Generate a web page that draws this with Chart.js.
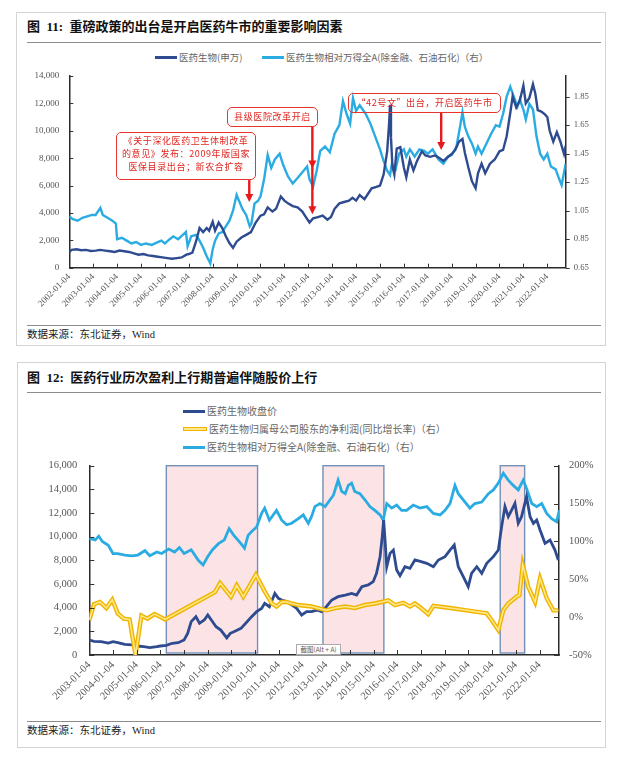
<!DOCTYPE html>
<html>
<head>
<meta charset="utf-8">
<script src="https://cdn.jsdelivr.net/npm/chart.js@4.4.1/dist/chart.umd.min.js"></script>
<style>
body { margin: 0; width: 636px; height: 760px; background: #fff; position: relative; overflow: hidden;
       font-family: "Liberation Serif", "Noto Sans CJK SC", serif; }
.panel { position: absolute; border: 1px solid #d4d4d4; background: #fff; }
.title { position: absolute; left: 27px; font-size: 13px; font-weight: bold; color: #111; white-space: nowrap; line-height: 16px; }
.rule { position: absolute; left: 27px; width: 574px; border-top: 1.4px solid #8c8c8c; }
.source { position: absolute; left: 27px; font-size: 10.5px; color: #222; line-height: 14px; white-space: nowrap; }
.lg { position: absolute; font-size: 9.5px; color: #666; white-space: nowrap; line-height: 12px;
      font-family: "Noto Sans CJK SC", sans-serif; }
.lg i { display: inline-block; width: 22px; height: 2.5px; vertical-align: middle; margin-right: 2px; margin-top: -2px; }
.lg i.gold { height: 2px; border: 1.2px solid #f0b400; background: #fde98a; }
.note { position: absolute; border: 1px solid #e8342f; border-radius: 5px; color: #e0251f; font-size: 9px;
        line-height: 13px; text-align: center; font-family: "Noto Sans CJK SC", sans-serif; z-index: 3; letter-spacing: 0.6px; }
canvas { position: absolute; }
.snip { position: absolute; left: 296px; top: 644px; width: 43px; height: 9px; border: 1px solid #aaa; background: #fff;
        font-size: 6.5px; line-height: 9px; color: #555; text-align: center; font-family: "Noto Sans CJK SC", sans-serif; z-index: 3; }
</style>
</head>
<body>
<div class="panel" style="left:16px;top:12px;width:588px;height:332px"></div>
<div class="panel" style="left:17px;top:362px;width:587px;height:384px"></div>

<div class="title" style="top:19px">图&nbsp;&nbsp;11:&nbsp;&nbsp;重磅政策的出台是开启医药牛市的重要影响因素</div>
<div class="rule" style="top:42px"></div>
<div class="lg" style="left:155px;top:51px"><i style="background:#2f4b8f"></i>医药生物(申万)</div>
<div class="lg" style="left:262px;top:51px"><i style="background:#2aace2"></i>医药生物相对万得全A(除金融、石油石化)（右）</div>
<canvas id="topChart" width="580" height="256" style="left:20px;top:66px"></canvas>
<div class="note" style="left:116px;top:132px;width:138px;height:45px;padding-top:1px">《关于深化医药卫生体制改革<br>的意见》发布：2009年版国家<br>医保目录出台；新农合扩容</div>
<div class="note" style="left:227px;top:107px;width:89px;height:18px;line-height:18px">县级医院改革开启</div>
<div class="note" style="left:348px;top:93px;width:151px;height:18px;line-height:18px">“42号文”出台，开启医药牛市</div>
<div class="rule" style="top:325px"></div>
<div class="source" style="top:328px">数据来源：东北证券，Wind</div>

<div class="title" style="top:370px">图&nbsp;&nbsp;12:&nbsp;&nbsp;医药行业历次盈利上行期普遍伴随股价上行</div>
<div class="rule" style="top:392px"></div>
<div class="lg" style="left:183px;top:405px;font-size:10px"><i style="background:#2f4b8f"></i>医药生物收盘价</div>
<div class="lg" style="left:183px;top:423px;font-size:10px"><i class="gold"></i>医药生物归属母公司股东的净利润(同比增长率)（右）</div>
<div class="lg" style="left:183px;top:441px;font-size:10px"><i style="background:#2aace2"></i>医药生物相对万得全A(除金融、石油石化)（右）</div>
<canvas id="bottomChart" width="580" height="260" style="left:20px;top:455px"></canvas>
<div class="snip">截图(Alt + A)</div>
<div class="rule" style="top:721px"></div>
<div class="source" style="top:724px">数据来源：东北证券，Wind</div>

<script>
// ---- data: [year, value] ----
const topYears = [2002, 2003, 2004, 2005, 2006, 2007, 2008, 2009, 2010, 2011, 2012,
                  2013, 2014, 2015, 2016, 2017, 2018, 2019, 2020, 2021, 2022];
const ratioTicks = [0.65, 0.85, 1.05, 1.25, 1.45, 1.65, 1.85];

// 医药生物(申万) index
const priceTop = [
  [2002.0,1150],[2002.1,1300],[2002.3,1350],[2002.5,1280],[2002.7,1300],[2002.9,1220],
  [2003.1,1250],[2003.3,1300],[2003.5,1250],[2003.7,1200],[2003.9,1150],[2004.1,1250],
  [2004.3,1200],[2004.5,1150],[2004.7,1050],[2004.9,950],[2005.1,1000],[2005.3,900],
  [2005.5,850],[2005.7,800],[2005.9,750],[2006.1,700],[2006.3,650],[2006.5,700],
  [2006.7,750],[2006.9,950],[2007.0,1000],[2007.15,1100],[2007.3,1900],[2007.45,2900],
  [2007.6,2600],[2007.75,2900],[2007.85,2700],[2008.0,3350],[2008.1,2700],[2008.25,3300],
  [2008.4,2900],[2008.55,2300],[2008.7,1800],[2008.85,1450],[2009.0,1900],[2009.2,2200],
  [2009.4,2400],[2009.6,2600],[2009.8,3300],[2010.0,3800],[2010.15,3900],[2010.3,4400],
  [2010.5,4100],[2010.65,4300],[2010.85,5200],[2011.0,4900],[2011.15,4700],[2011.35,4500],
  [2011.55,4400],[2011.75,4100],[2011.9,3700],[2012.05,3300],[2012.2,3600],[2012.4,3700],
  [2012.6,3800],[2012.8,3500],[2012.95,3700],[2013.1,4300],[2013.3,4700],[2013.5,4800],
  [2013.7,4900],[2013.85,5100],[2014.0,4900],[2014.15,5300],[2014.35,5000],[2014.5,5400],
  [2014.65,5800],[2014.85,5900],[2015.0,6000],[2015.15,6800],[2015.3,8500],[2015.38,10500],
  [2015.42,11900],[2015.46,9500],[2015.52,7400],[2015.6,6800],[2015.7,8700],[2015.85,8800],
  [2016.0,7300],[2016.1,6600],[2016.25,7900],[2016.4,7100],[2016.55,7800],[2016.75,8500],
  [2016.9,8200],[2017.1,8100],[2017.3,8200],[2017.5,8000],[2017.65,7800],[2017.85,8100],
  [2018.0,8300],[2018.15,8600],[2018.3,9200],[2018.45,9400],[2018.55,8400],[2018.7,7300],
  [2018.85,6300],[2019.0,5800],[2019.1,6900],[2019.25,7600],[2019.4,6900],[2019.6,7600],
  [2019.8,7900],[2020.0,8500],[2020.15,8600],[2020.3,9600],[2020.45,11300],[2020.55,12500],
  [2020.7,11700],[2020.85,12200],[2021.0,13300],[2021.1,12000],[2021.25,12400],[2021.4,13400],
  [2021.5,12700],[2021.6,11500],[2021.75,11400],[2021.9,11200],[2022.0,11000],[2022.1,10000],
  [2022.25,9200],[2022.4,9900],[2022.55,9200],[2022.7,8300],[2022.77,8900]
];

// 医药生物相对万得全A (right axis)
const ratioTop = [
  [2002.0,1.01],[2002.15,0.99],[2002.35,0.98],[2002.55,1.00],[2002.75,1.01],[2002.95,1.02],
  [2003.1,1.02],[2003.3,1.07],[2003.4,1.02],[2003.6,1.00],[2003.8,0.98],[2003.95,0.96],
  [2004.0,0.85],[2004.2,0.86],[2004.4,0.84],[2004.6,0.82],[2004.8,0.83],[2005.0,0.81],
  [2005.2,0.82],[2005.45,0.81],[2005.7,0.83],[2005.85,0.84],[2006.0,0.82],[2006.2,0.85],
  [2006.35,0.87],[2006.55,0.85],[2006.75,0.88],[2006.88,0.90],[2006.95,0.80],[2007.1,0.87],
  [2007.3,0.88],[2007.45,0.84],[2007.6,0.79],[2007.75,0.73],[2007.9,0.68],[2008.0,0.78],
  [2008.1,0.84],[2008.25,0.89],[2008.4,0.90],[2008.55,0.94],[2008.7,0.98],[2008.85,1.05],
  [2009.0,1.16],[2009.1,1.12],[2009.25,1.06],[2009.4,1.02],[2009.55,0.94],[2009.62,0.96],
  [2009.75,1.10],[2009.9,1.12],[2010.0,1.15],[2010.15,1.27],[2010.3,1.44],[2010.45,1.35],
  [2010.6,1.41],[2010.8,1.45],[2010.95,1.37],[2011.15,1.29],[2011.35,1.24],[2011.55,1.28],
  [2011.75,1.32],[2011.95,1.36],[2012.05,1.27],[2012.2,1.22],[2012.35,1.33],[2012.5,1.47],
  [2012.7,1.50],[2012.9,1.46],[2013.1,1.59],[2013.3,1.65],[2013.45,1.82],[2013.6,1.73],
  [2013.75,1.66],[2013.87,1.84],[2014.0,1.75],[2014.15,1.79],[2014.4,1.73],[2014.6,1.66],
  [2014.8,1.57],[2015.0,1.48],[2015.15,1.40],[2015.3,1.33],[2015.42,1.30],[2015.5,1.38],
  [2015.65,1.34],[2015.8,1.45],[2016.0,1.48],[2016.1,1.43],[2016.25,1.48],[2016.45,1.43],
  [2016.65,1.48],[2016.85,1.47],[2017.0,1.45],[2017.2,1.48],[2017.45,1.41],[2017.65,1.38],
  [2017.85,1.43],[2018.0,1.44],[2018.2,1.50],[2018.35,1.64],[2018.45,1.74],[2018.55,1.64],
  [2018.7,1.57],[2018.85,1.52],[2019.0,1.45],[2019.1,1.50],[2019.25,1.45],[2019.45,1.52],
  [2019.65,1.59],[2019.85,1.65],[2020.0,1.64],[2020.15,1.73],[2020.3,1.85],[2020.45,1.92],
  [2020.6,1.85],[2020.75,1.78],[2020.85,1.83],[2021.0,1.76],[2021.1,1.69],[2021.25,1.80],
  [2021.4,1.76],[2021.55,1.57],[2021.7,1.45],[2021.85,1.41],[2022.0,1.45],[2022.15,1.36],
  [2022.35,1.34],[2022.5,1.27],[2022.6,1.23],[2022.77,1.38]
];

// policy notes: date, arrow start value, arrow tip values (left axis units)
const noteArrows = [
  { x: 2009.53, from: 6400, tips: [4800] },
  { x: 2012.17, from: 10340, tips: [7250, 3900] },
  { x: 2017.56, from: 11340, tips: [8590] }
];

const bottomYears = [2003, 2004, 2005, 2006, 2007, 2008, 2009, 2010, 2011, 2012,
                     2013, 2014, 2015, 2016, 2017, 2018, 2019, 2020, 2021, 2022];
const upCycles = [[2006.25, 2010.1], [2012.86, 2015.43], [2020.34, 2021.37]];

// 医药生物收盘价
const priceBottom = [
  [2003.0,1270],[2003.2,1150],[2003.5,1130],[2003.8,1000],[2004.0,1130],[2004.2,1040],
  [2004.5,900],[2004.8,850],[2005.0,760],[2005.3,700],[2005.55,620],[2005.85,700],
  [2006.0,760],[2006.25,820],[2006.5,990],[2006.75,1040],[2007.0,1270],[2007.15,1830],
  [2007.3,2820],[2007.5,3240],[2007.65,2680],[2007.85,2960],[2008.0,3380],[2008.15,2960],
  [2008.35,2390],[2008.55,2110],[2008.8,1450],[2008.95,1830],[2009.1,1970],[2009.4,2250],
  [2009.6,2680],[2009.85,3240],[2010.06,3660],[2010.27,3940],[2010.4,4370],[2010.6,4080],
  [2010.83,5210],[2010.98,4790],[2011.12,4650],[2011.33,4510],[2011.54,4230],[2011.75,3940],
  [2011.96,3380],[2012.17,3660],[2012.38,3660],[2012.6,3800],[2012.8,3660],[2013.0,4080],
  [2013.23,4650],[2013.5,4930],[2013.8,5070],[2014.07,5210],[2014.28,5070],[2014.5,5770],
  [2014.77,5920],[2014.98,6200],[2015.12,6900],[2015.27,8310],[2015.36,10000],[2015.42,11400],
  [2015.48,9720],[2015.55,7460],[2015.69,8590],[2015.83,8870],[2015.97,7180],[2016.11,6700],
  [2016.32,7460],[2016.53,7320],[2016.74,8030],[2017.0,7890],[2017.24,7750],[2017.52,7460],
  [2017.73,8030],[2018.01,8310],[2018.22,8870],[2018.4,9300],[2018.57,7460],[2018.78,6620],
  [2018.99,5770],[2019.13,6900],[2019.35,7460],[2019.56,6900],[2019.77,7750],[2020.05,8310],
  [2020.26,8870],[2020.4,10850],[2020.54,12540],[2020.68,11690],[2020.82,12250],[2020.96,12820],
  [2021.1,11130],[2021.24,11690],[2021.45,13380],[2021.6,11690],[2021.74,11130],[2021.88,11410],
  [2022.02,10560],[2022.23,9440],[2022.44,9720],[2022.65,8870],[2022.79,8030]
];

// 医药生物相对万得全A, % (right axis)
const ratioBottom = [
  [2003.0,104],[2003.25,102],[2003.4,107],[2003.55,100],[2003.8,95],[2004.0,84],
  [2004.2,84],[2004.5,82],[2004.8,81],[2005.05,82],[2005.35,88],[2005.55,81],
  [2005.85,86],[2006.05,84],[2006.35,90],[2006.6,86],[2006.8,92],[2007.0,84],
  [2007.3,89],[2007.6,75],[2007.8,69],[2008.0,80],[2008.2,89],[2008.45,97],
  [2008.7,102],[2008.9,117],[2009.1,108],[2009.4,97],[2009.55,91],[2009.7,108],
  [2009.85,113],[2010.06,119],[2010.27,137],[2010.4,144],[2010.6,128],[2010.9,141],
  [2011.12,128],[2011.33,122],[2011.54,124],[2011.82,130],[2012.03,135],[2012.24,124],
  [2012.38,133],[2012.52,146],[2012.73,150],[2012.95,146],[2013.16,155],[2013.3,161],
  [2013.5,181],[2013.65,166],[2013.8,163],[2013.93,174],[2014.07,177],[2014.2,166],
  [2014.42,163],[2014.63,155],[2014.84,146],[2015.05,141],[2015.27,135],[2015.4,128],
  [2015.55,150],[2015.76,144],[2015.97,148],[2016.18,141],[2016.39,141],[2016.67,148],
  [2016.95,144],[2017.24,146],[2017.52,137],[2017.8,135],[2018.01,141],[2018.22,150],
  [2018.43,174],[2018.57,163],[2018.78,155],[2019.06,144],[2019.27,150],[2019.56,152],
  [2019.84,163],[2020.05,168],[2020.26,177],[2020.47,190],[2020.68,181],[2020.89,174],
  [2021.1,168],[2021.31,181],[2021.45,170],[2021.67,150],[2021.88,146],[2022.09,150],
  [2022.3,137],[2022.51,130],[2022.72,126],[2022.83,141]
];

// 归母净利润同比, % (right axis)
const profitBottom = [
  [2003.0,-4],[2003.2,17],[2003.45,20],[2003.72,12],[2003.97,23],[2004.2,5],
  [2004.45,-2],[2004.7,-3],[2004.95,-50],[2005.2,2],[2005.45,-2],[2005.75,4],
  [2005.95,1],[2006.2,-3],[2008.3,33],[2008.52,45],[2008.98,27],[2009.22,42],
  [2009.5,27],[2010.03,56],[2010.15,49],[2010.4,34],[2010.7,18],[2010.9,14],
  [2011.12,20],[2011.33,20],[2011.54,18],[2011.82,16],[2012.38,14],[2013.0,9],
  [2013.37,12],[2013.8,14],[2014.2,12],[2014.63,16],[2015.05,18],[2015.34,20],
  [2015.62,22],[2015.9,16],[2016.25,19],[2016.53,14],[2016.74,18],[2017.0,12],
  [2017.3,4],[2017.52,15],[2018.22,12],[2018.92,9],[2019.77,5],[2019.98,-4],
  [2020.26,-17],[2020.47,9],[2020.68,18],[2021.03,27],[2021.15,29],[2021.29,69],
  [2021.38,58],[2021.52,40],[2021.81,20],[2022.02,51],[2022.3,25],[2022.58,9],[2022.79,9]
];

// ---- helpers ----
const serif = "'Liberation Serif', 'Times New Roman', serif";
const tickGray = '#555';
const navy = '#2f4b8f';
const sky = '#2aace2';

const innerTicks = {
  id: 'innerTicks',
  afterDatasetsDraw(chart, args, opts) {
    const ctx = chart.ctx;
    ctx.save();
    ctx.strokeStyle = '#333';
    ctx.lineWidth = 1;
    Object.values(chart.scales).forEach(s => {
      const len = opts[s.id];
      if (!len) return;
      s.ticks.forEach(t => {
        const p = Math.round(s.getPixelForValue(t.value)) + 0.5;
        ctx.beginPath();
        if (s.isHorizontal()) {
          ctx.moveTo(p, s.top); ctx.lineTo(p, s.top - len);
        } else {
          const edge = s.position === 'left' ? s.right : s.left;
          ctx.moveTo(edge, p); ctx.lineTo(edge + len, p);
        }
        ctx.stroke();
      });
    });
    ctx.restore();
  }
};

const arrowPlugin = {
  id: 'notes',
  afterDatasetsDraw(chart) {
    const ctx = chart.ctx, xs = chart.scales.x, ys = chart.scales.y;
    ctx.save();
    ctx.strokeStyle = '#e8191a';
    ctx.fillStyle = '#e8191a';
    ctx.lineWidth = 2.4;
    noteArrows.forEach(a => {
      const x = xs.getPixelForValue(a.x);
      const y0 = ys.getPixelForValue(a.from);
      const yEnd = ys.getPixelForValue(a.tips[a.tips.length - 1]);
      ctx.beginPath();
      ctx.moveTo(x, y0);
      ctx.lineTo(x, yEnd - 6);
      ctx.stroke();
      a.tips.forEach(v => {
        const ty = ys.getPixelForValue(v);
        ctx.beginPath();
        ctx.moveTo(x, ty);
        ctx.lineTo(x - 4, ty - 8);
        ctx.lineTo(x + 4, ty - 8);
        ctx.closePath();
        ctx.fill();
      });
    });
    ctx.restore();
  }
};

const shadePlugin = {
  id: 'shade',
  beforeDatasetsDraw(chart) {
    const ctx = chart.ctx, xs = chart.scales.x, area = chart.chartArea;
    ctx.save();
    upCycles.forEach(([a, b]) => {
      const x1 = xs.getPixelForValue(a), x2 = xs.getPixelForValue(b);
      ctx.fillStyle = 'rgba(251,226,229,0.95)';
      ctx.fillRect(x1, area.top, x2 - x1, area.bottom - area.top - 2);
      ctx.strokeStyle = '#7191b8';
      ctx.lineWidth = 1.4;
      ctx.strokeRect(x1, area.top, x2 - x1, area.bottom - area.top - 2);
    });
    ctx.restore();
  }
};

function xAxis(min, max, years, height, fontSize) {
  return {
    type: 'linear', min: min, max: max,
    afterBuildTicks: s => { s.ticks = years.map(v => ({ value: v })); },
    afterFit: s => { s.height = height; s.paddingLeft = 0; s.paddingRight = 0; },
    ticks: {
      autoSkip: false, minRotation: 45, maxRotation: 45, padding: 4,
      color: tickGray, font: { family: serif, size: fontSize },
      callback: v => v + '-01-04'
    },
    grid: { display: false, drawTicks: false },
    border: { display: true, color: '#2b2b2b', width: 1.5 }
  };
}

function yAxis(pos, width, pad, fontSize, extra) {
  return Object.assign({
    position: pos,
    afterFit: s => { s.width = width; s.paddingTop = 0; s.paddingBottom = 0; },
    grid: { display: false, drawTicks: false, drawOnChartArea: false },
    border: { display: true, color: '#2b2b2b', width: 1.5 },
    ticks: { padding: pad, color: tickGray, font: { family: serif, size: fontSize } }
  }, extra);
}

function mergeTicks(axis, more) {
  axis.ticks = Object.assign(axis.ticks, more);
  return axis;
}

// ---- top chart ----
const topLeft = mergeTicks(yAxis('left', 49.3, 10, 9, { min: 0, max: 14000 }),
  { stepSize: 2000, callback: v => v.toLocaleString('en-US') });
const topRight = yAxis('right', 34.3, 8, 8.7, {
  min: 0.65, max: 1.995,
  afterBuildTicks: s => { s.ticks = ratioTicks.map(v => ({ value: v })); }
});
topRight.ticks.callback = v => v.toFixed(2);

new Chart(document.getElementById('topChart'), {
  type: 'line',
  data: {
    datasets: [
      { label: '医药生物(申万)', data: priceTop, yAxisID: 'y',
        borderColor: navy, borderWidth: 2.4, pointRadius: 0, tension: 0 },
      { label: '医药生物相对万得全A(除金融、石油石化)（右）', data: ratioTop, yAxisID: 'y1',
        borderColor: sky, borderWidth: 2.4, pointRadius: 0, tension: 0 }
    ]
  },
  options: {
    responsive: false, animation: false,
    layout: { padding: { top: 10, left: 0, right: 0, bottom: 0 } },
    scales: { x: xAxis(2002, 2022.77, topYears, 54.3, 9), y: topLeft, y1: topRight },
    plugins: {
      legend: { display: false }, tooltip: { enabled: false },
      innerTicks: { x: 4, y: 4, y1: 4 }
    }
  },
  plugins: [innerTicks, arrowPlugin]
});

// ---- bottom chart ----
const botLeft = mergeTicks(yAxis('left', 69.3, 12, 10.5, { min: 0, max: 16000 }),
  { stepSize: 2000, callback: v => v.toLocaleString('en-US') });
const botRight = mergeTicks(yAxis('right', 41, 10, 10.5, { min: -50, max: 200 }),
  { stepSize: 50, callback: v => v + '%' });

new Chart(document.getElementById('bottomChart'), {
  type: 'line',
  data: {
    datasets: [
      { label: 'inner', data: profitBottom, yAxisID: 'y1',
        borderColor: '#fde98a', borderWidth: 1.6, pointRadius: 0, tension: 0 },
      { label: '医药生物归属母公司股东的净利润(同比增长率)（右）', data: profitBottom, yAxisID: 'y1',
        borderColor: '#f0b400', borderWidth: 4.4, pointRadius: 0, tension: 0 },
      { label: '医药生物收盘价', data: priceBottom, yAxisID: 'y',
        borderColor: navy, borderWidth: 2.8, pointRadius: 0, tension: 0 },
      { label: '医药生物相对万得全A(除金融、石油石化)（右）', data: ratioBottom, yAxisID: 'y1',
        borderColor: sky, borderWidth: 2.8, pointRadius: 0, tension: 0 }
    ]
  },
  options: {
    responsive: false, animation: false,
    layout: { padding: { top: 10.7, left: 0, right: 0, bottom: 0 } },
    scales: { x: xAxis(2003, 2022.82, bottomYears, 60, 10.5), y: botLeft, y1: botRight },
    plugins: {
      legend: { display: false }, tooltip: { enabled: false },
      innerTicks: { x: 5, y: 5, y1: -5 }
    }
  },
  plugins: [innerTicks, shadePlugin]
});
</script>
</body>
</html>
